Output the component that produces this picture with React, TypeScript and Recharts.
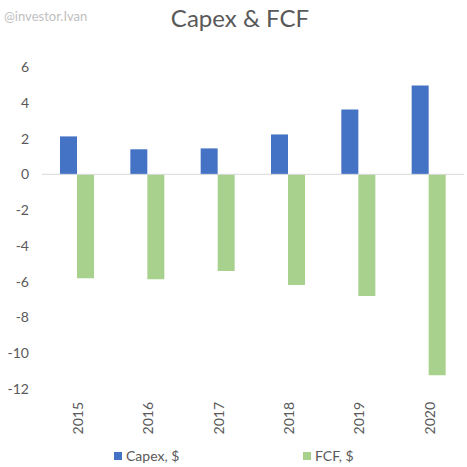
import React from "react";
import { BarChart, Bar, XAxis, YAxis, ReferenceLine, Legend } from "recharts";

const years = ["2015", "2016", "2017", "2018", "2019", "2020"];
const capex = [2.12, 1.4, 1.45, 2.23, 3.63, 4.97];
const fcf = [-5.81, -5.87, -5.4, -6.18, -6.8, -11.23];
const yTicks = [-12, -10, -8, -6, -4, -2, 0, 2, 4, 6];

const data = years.map((y, i) => ({ year: y, capex: capex[i], fcf: fcf[i] }));

const FONT = "Lato, 'Open Sans', sans-serif";
const TEXT = "#595959";

const XTick = (props: any) => {
  const { x, y, payload } = props;
  return (
    <text
      transform={`translate(${x + 1},${y + 13}) rotate(-90)`}
      textAnchor="end"
      dy="0.35em"
      fill={TEXT}
      fontSize={14}
      fontFamily={FONT}
    >
      {payload.value}
    </text>
  );
};

const LegendContent = () => (
  <div style={{ position: "relative", width: 467, height: 0 }}>
    {[
      { label: "Capex, $", color: "#4472C4", left: 114 },
      { label: "FCF, $", color: "#A9D18E", left: 303 },
    ].map((it) => (
      <div
        key={it.label}
        style={{
          position: "absolute",
          left: it.left,
          top: 0,
          display: "flex",
          alignItems: "center",
          fontFamily: FONT,
          fontSize: 14,
          color: TEXT,
          whiteSpace: "nowrap",
          lineHeight: "18px",
        }}
      >
        <span style={{ display: "inline-block", width: 8, height: 8, background: it.color, marginRight: 4 }} />
        {it.label}
      </div>
    ))}
  </div>
);

export default function App() {
  return (
    <div style={{ position: "absolute", left: 0, top: 0, width: 467, height: 467, background: "#fff" }}>
      <BarChart
        width={467}
        height={467}
        data={data}
        margin={{ top: 67, right: 3, left: 0, bottom: 0 }}
        barSize={17}
        barGap={0}
      >
        <text x={4} y={21} fontSize={13} fontFamily={FONT} fill="#bfbfbf">
          @investor.Ivan
        </text>
        <text x={240} y={27} textAnchor="middle" fontSize={24} fontFamily={FONT} fill={TEXT}>
          Capex &amp; FCF
        </text>
        <YAxis
          type="number"
          domain={[-12, 6]}
          ticks={yTicks}
          interval={0}
          width={42}
          axisLine={false}
          tickLine={false}
          tickSize={0}
          tickMargin={13}
          tick={{ fill: TEXT, fontSize: 14, fontFamily: FONT }}
        />
        <XAxis
          dataKey="year"
          height={78}
          axisLine={false}
          tickLine={false}
          tickSize={0}
          tickMargin={0}
          interval={0}
          tick={<XTick />}
        />
        <Bar dataKey="capex" name="Capex, $" fill="#4472C4" isAnimationActive={false} />
        <Bar dataKey="fcf" name="FCF, $" fill="#A9D18E" isAnimationActive={false} />
        <ReferenceLine y={0} stroke="#d9d9d9" strokeWidth={1} />
        <Legend
          content={<LegendContent />}
          verticalAlign="bottom"
          wrapperStyle={{ left: 0, top: 447, width: 467, height: 0 }}
        />
      </BarChart>
    </div>
  );
}
